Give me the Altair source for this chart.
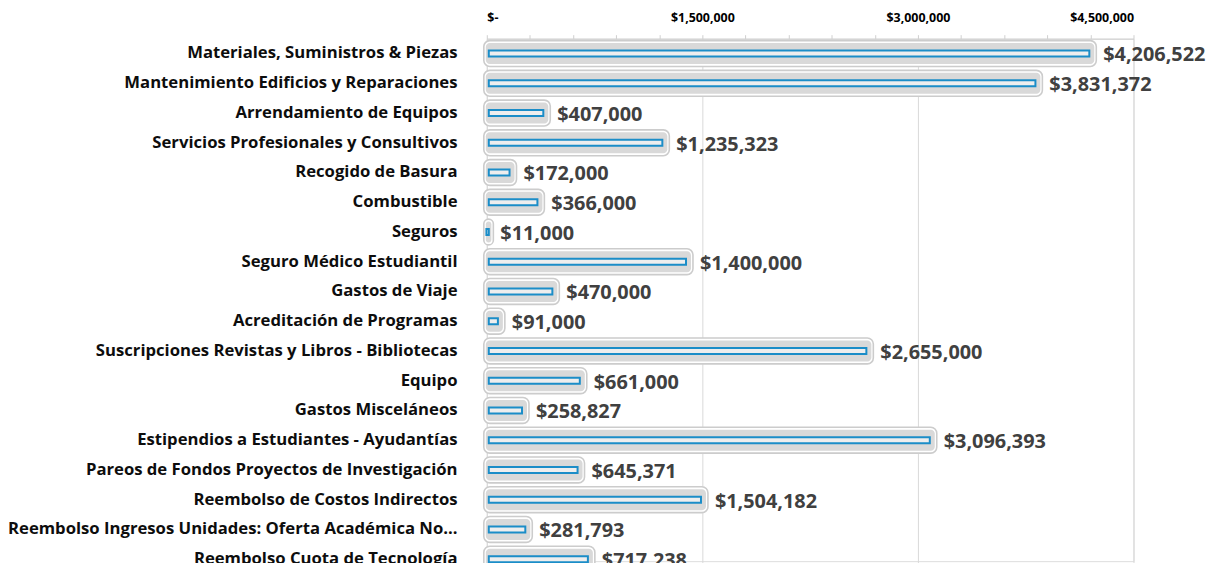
import altair as alt
import pandas as pd

categories = [
    "Materiales, Suministros & Piezas",
    "Mantenimiento Edificios y Reparaciones",
    "Arrendamiento de Equipos",
    "Servicios Profesionales y Consultivos",
    "Recogido de Basura",
    "Combustible",
    "Seguros",
    "Seguro Médico Estudiantil",
    "Gastos de Viaje",
    "Acreditación de Programas",
    "Suscripciones Revistas y Libros - Bibliotecas",
    "Equipo",
    "Gastos Misceláneos",
    "Estipendios a Estudiantes  - Ayudantías",
    "Pareos de Fondos Proyectos de Investigación",
    "Reembolso de Costos Indirectos",
    "Reembolso Ingresos Unidades: Oferta Académica No...",
    "Reembolso Cuota de Tecnología",
]
values = [4206522, 3831372, 407000, 1235323, 172000, 366000, 11000, 1400000,
          470000, 91000, 2655000, 661000, 258827, 3096393, 645371, 1504182,
          281793, 717238]
tick_values = [0, 300000, 600000, 900000, 1200000, 1500000, 1800000, 2100000,
               2400000, 2700000, 3000000, 3300000, 3600000, 3900000, 4200000,
               4500000]

df = pd.DataFrame({"cat": categories, "value": values})

FONT = "Open Sans"

y_enc = alt.Y(
    "cat:N",
    sort=categories,
    scale=alt.Scale(range=[0, 539], paddingInner=0, paddingOuter=0),
    axis=alt.Axis(
        title=None, ticks=False, domain=False, labelPadding=30,
        labelFont=FONT, labelFontWeight="bold", labelFontSize=16.8,
        labelColor="#0d0d0d", labelLimit=600,
    ),
)

x_scale = alt.Scale(domain=[0, 4500000], nice=False, zero=True)
x_axis = alt.Axis(
    orient="top", title=None, values=tick_values,
    labelExpr="datum.value == 0 ? '$-' : (datum.value % 1500000 == 0 ? '$' + format(datum.value, ',') : '')",
    labelFont=FONT, labelFontWeight="bold", labelFontSize=12.5, labelColor="#000000",
    labelPadding=10, tickSize=4, tickColor="#d0d0d0", domainColor="#d0d0d0",
    gridColor="#d9d9d9",
    gridOpacity={"condition": {"test": "datum.value % 1500000 === 0", "value": 1}, "value": 0},
)

base = alt.Chart(df).transform_calculate(zero="0")

outer = base.mark_bar(
    size=26, cornerRadius=6, fill="#ffffff", stroke="#cccccc", strokeWidth=1.6,
    xOffset=-3, x2Offset=5,
).encode(
    y=y_enc,
    x=alt.X("zero:Q", scale=x_scale, axis=x_axis),
    x2="value:Q",
)

inner = base.mark_bar(
    size=21, cornerRadius=4, fill="#d9d9d9", xOffset=-1, x2Offset=3,
).encode(y=alt.Y("cat:N", sort=categories), x=alt.X("zero:Q"), x2="value:Q")

blue = base.mark_bar(
    size=6, fill="#eeeeee", stroke="#1b8dc8", strokeWidth=2,
    xOffset=2, x2Offset=-2,
).encode(y=alt.Y("cat:N", sort=categories), x=alt.X("zero:Q"), x2="value:Q")

text = base.transform_calculate(
    label="'$' + format(datum.value, ',')"
).mark_text(
    align="left", baseline="middle", dx=12, dy=2,
    font=FONT, fontWeight="bold", fontSize=20, color="#404040",
).encode(y=alt.Y("cat:N", sort=categories), x=alt.X("value:Q"), text="label:N")

chart = alt.layer(outer, inner, blue, text).properties(
    width=651, height=526,
    autosize=alt.AutoSizeParams(type="none"),
    padding={"left": 482, "top": 29, "right": 75, "bottom": 0},
).configure_view(stroke=None).configure(background="#ffffff")

chart.save("out.html", embed_options={"renderer": "svg", "actions": False})
